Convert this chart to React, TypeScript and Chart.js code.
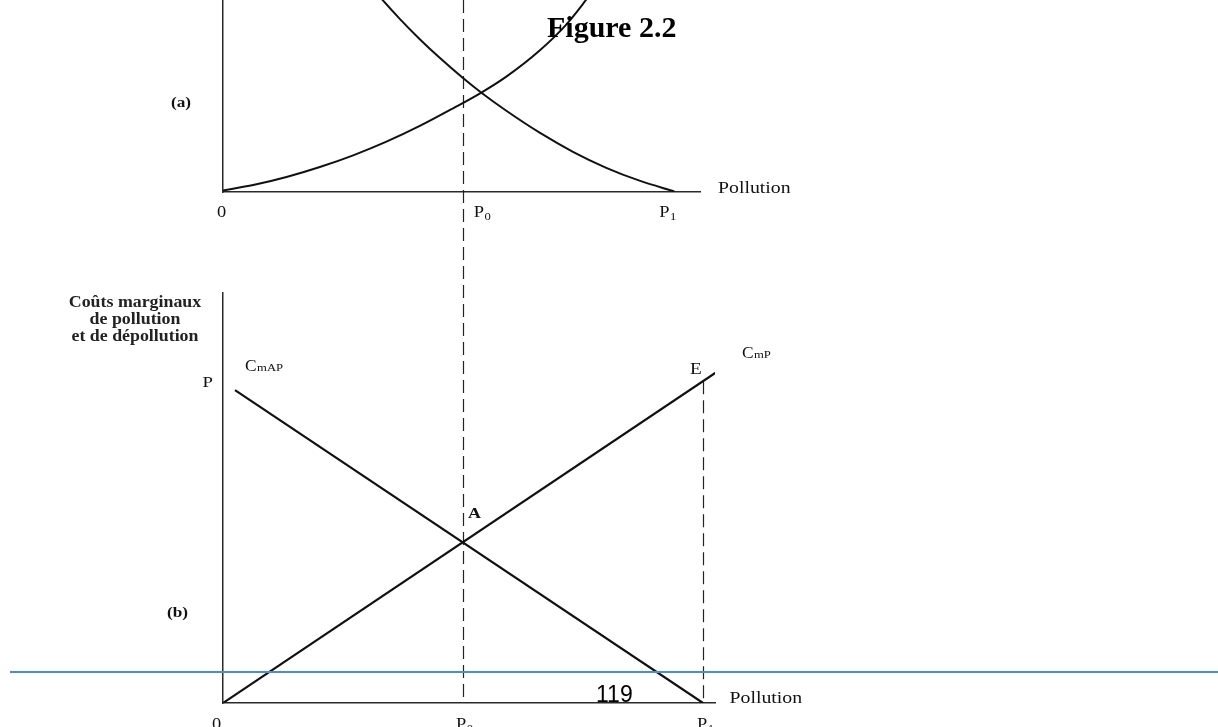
import React, { useEffect, useRef } from 'react';
import { Chart, registerables } from 'chart.js';

Chart.register(...registerables);

// ---------- DATA ----------
const P0 = 1;
const TOP_P1 = 1.883;
const BOTTOM_P1 = 2;
const TOP_X_MAX = 1.99;
const BOTTOM_X_MAX = 2.05;

// Panel (a): marginal damage (convex increasing) and abatement (convex decreasing)
const damageX = [0, 0.126, 0.265, 0.404, 0.543, 0.682, 0.821, 0.96, 1.078, 1.182, 1.321, 1.432, 1.508, 1.571];
const damageY = [0.8, 3.6, 7.8, 13.0, 19.1, 26.2, 34.4, 43.6, 51.8, 60.1, 73.7, 87.2, 99.0, 109.7];
const abateX = [0.592, 0.654, 0.7375, 0.821, 0.904, 1.0, 1.078, 1.182, 1.321, 1.46, 1.599, 1.7375, 1.883];
const abateY = [111.0, 101.7, 90.2, 79.6, 69.9, 59.5, 51.7, 42.3, 30.9, 20.95, 12.6, 5.9, 0.3];

// Panel (b): straight marginal cost lines
const cmapX = [0.05, 2.0];
const cmapY = [76.3, 0];
const cmpX = [0, 2.133];
const cmpY = [0, 83.7];
const E_VALUE = 78.5;
const A_VALUE = 39.2;

const tickMain = ['0', 'P', 'P'];
const tickSub = ['', '0', '1'];
const titleLines = ['Coûts marginaux', 'de pollution', 'et de dépollution'];

const SERIF = '"Liberation Serif", "Times New Roman", serif';
const TOP_CANVAS_H = 260;
const BOT_CANVAS_H = 467;

function pts(xs: number[], ys: number[]) {
  return xs.map((x, i) => ({ x, y: ys[i] }));
}

function txt(ctx: CanvasRenderingContext2D, s: string, x: number, y: number, font: string, align = 'left', sx = 1.2, color = '#111') {
  ctx.save();
  ctx.font = font;
  ctx.fillStyle = color;
  ctx.textBaseline = 'alphabetic';
  ctx.textAlign = 'left';
  const w = ctx.measureText(s).width * sx;
  let left = x;
  if (align === 'center') left = x - w / 2;
  else if (align === 'right') left = x - w;
  ctx.translate(left, y);
  ctx.scale(sx, 1);
  ctx.fillText(s, 0, 0);
  ctx.restore();
  return w;
}

function subLabel(ctx: CanvasRenderingContext2D, main: string, sub: string, x: number, y: number, mainSize: number, subSize: number, sx: number, drop: number) {
  const w = txt(ctx, main, x, y, `${mainSize}px ${SERIF}`, 'left', sx);
  if (sub) txt(ctx, sub, x + w + 0.5, y + drop, `${subSize}px ${SERIF}`, 'left', sx);
}

function dashed(ctx: CanvasRenderingContext2D, x: number, y1: number, y2: number, offset = 0) {
  ctx.save();
  ctx.strokeStyle = '#222';
  ctx.lineWidth = 1.2;
  ctx.setLineDash([13, 6]);
  ctx.lineDashOffset = offset;
  ctx.beginPath();
  ctx.moveTo(Math.round(x) + 0.5, y1);
  ctx.lineTo(Math.round(x) + 0.5, y2);
  ctx.stroke();
  ctx.restore();
}

function axisScales(xMax: number) {
  const common = {
    type: 'linear' as const,
    display: true,
    grid: { display: false, drawTicks: false },
    border: { display: true, color: '#2a2a2a', width: 1.5 },
    ticks: { display: false },
  };
  return {
    x: { ...common, min: 0, max: xMax, afterFit: (s: any) => { s.height = 0; } },
    y: { ...common, min: 0, max: 100, afterFit: (s: any) => { s.width = 0; } },
  };
}

export default function App() {
  const topRef = useRef<HTMLCanvasElement>(null);
  const botRef = useRef<HTMLCanvasElement>(null);

  useEffect(() => {
    const topPlugin = {
      id: 'topAnno',
      beforeDatasetsDraw(chart: any) {
        const { ctx, chartArea: a, scales } = chart;
        dashed(ctx, scales.x.getPixelForValue(P0), a.top, chart.height, 0);
      },
      afterDraw(chart: any) {
        const { ctx, chartArea: a, scales } = chart;
        const x = scales.x;
        ctx.save();
        ctx.font = `bold 30px ${SERIF}`;
        ctx.fillStyle = '#000';
        ctx.textBaseline = 'alphabetic';
        ctx.fillText('Figure 2.2', 547, 37);
        ctx.restore();
        txt(ctx, '(a)', a.left - 52, 107, `bold 15px ${SERIF}`, 'left', 1.15);
        txt(ctx, 'Pollution', a.right + 18, a.bottom + 1, `16.5px ${SERIF}`, 'left', 1.2);
        const tickVals = [0, P0, TOP_P1];
        const offs = [-6, 11, -15];
        tickVals.forEach((v, i) => {
          subLabel(ctx, tickMain[i], tickSub[i], x.getPixelForValue(v) + offs[i], a.bottom + 25, 16, 11, 1.15, 3);
        });
      },
    };

    const botPlugin = {
      id: 'botAnno',
      beforeDatasetsDraw(chart: any) {
        const { ctx, chartArea: a, scales } = chart;
        dashed(ctx, scales.x.getPixelForValue(P0), 0, a.bottom, TOP_CANVAS_H);
        dashed(ctx, scales.x.getPixelForValue(BOTTOM_P1), scales.y.getPixelForValue(E_VALUE), a.bottom, 0);
      },
      afterDraw(chart: any) {
        const { ctx, chartArea: a, scales } = chart;
        const x = scales.x, y = scales.y;
        titleLines.forEach((s, i) => {
          txt(ctx, s, a.left - 88, 47 + i * 17, `bold 17px ${SERIF}`, 'center', 1.05, '#222');
        });
        const pY = y.getPixelForValue(cmapY[0]);
        txt(ctx, 'P', a.left - 10, pY - 3, `15px ${SERIF}`, 'right', 1.25);
        const cw = txt(ctx, 'C', a.left + 22, pY - 19, `16.5px ${SERIF}`, 'left', 1.05);
        txt(ctx, 'mAP', a.left + 22 + cw + 0.5, pY - 19, `11px ${SERIF}`, 'left', 1.15);
        const eX = x.getPixelForValue(BOTTOM_P1), eY = y.getPixelForValue(E_VALUE);
        txt(ctx, 'E', eX - 13, eY - 7, `16px ${SERIF}`, 'left', 1.2);
        const endX = x.getPixelForValue(cmpX[1]), endY = y.getPixelForValue(cmpY[1]);
        const cw2 = txt(ctx, 'C', endX + 7, endY - 2, `16.5px ${SERIF}`, 'left', 1.05);
        txt(ctx, 'mP', endX + 7 + cw2 + 0.5, endY - 2, `11px ${SERIF}`, 'left', 1.15);
        const aX = x.getPixelForValue(P0), aY = y.getPixelForValue(A_VALUE);
        txt(ctx, 'A', aX + 5, aY - 24, `bold 15px ${SERIF}`, 'left', 1.2);
        txt(ctx, '(b)', 167, 357, `bold 15px ${SERIF}`, 'left', 1.15);
        txt(ctx, 'Pollution', a.right + 14.5, a.bottom, `16.5px ${SERIF}`, 'left', 1.2);
        const tickVals = [0, P0, BOTTOM_P1];
        const offs = [-11, -7, -6];
        tickVals.forEach((v, i) => {
          subLabel(ctx, tickMain[i], tickSub[i], x.getPixelForValue(v) + offs[i], a.bottom + 26, 16, 11, 1.15, 3);
        });
        // page footer decorations
        ctx.save();
        ctx.fillStyle = '#4a8fd0';
        ctx.fillRect(10, 411, 1208, 2);
        ctx.fillStyle = '#000';
        ctx.font = '23px "Liberation Sans", Arial, sans-serif';
        ctx.textBaseline = 'alphabetic';
        ctx.fillText('119', 596, 442);
        ctx.restore();
      },
    };

    const baseOpts = {
      responsive: false,
      animation: false as const,
      events: [] as any[],
      plugins: { legend: { display: false }, tooltip: { enabled: false } },
    };

    const top = new Chart(topRef.current!, {
      type: 'scatter',
      data: {
        datasets: [
          { data: pts(damageX, damageY), showLine: true, borderColor: '#111', borderWidth: 2, pointRadius: 0, cubicInterpolationMode: 'monotone' },
          { data: pts(abateX, abateY), showLine: true, borderColor: '#111', borderWidth: 2, pointRadius: 0, cubicInterpolationMode: 'monotone' },
        ],
      },
      options: {
        ...baseOpts,
        layout: { padding: { left: 223, right: 1218 - 700, top: 0, bottom: TOP_CANVAS_H - 192 } },
        scales: axisScales(TOP_X_MAX) as any,
      },
      plugins: [topPlugin],
    } as any);

    const bot = new Chart(botRef.current!, {
      type: 'scatter',
      data: {
        datasets: [
          { data: pts(cmapX, cmapY), showLine: true, borderColor: '#111', borderWidth: 2.2, pointRadius: 0 },
          { data: pts(cmpX, cmpY), showLine: true, borderColor: '#111', borderWidth: 2.2, pointRadius: 0 },
        ],
      },
      options: {
        ...baseOpts,
        layout: { padding: { left: 223, right: 1218 - 715, top: 33, bottom: BOT_CANVAS_H - 443 } },
        scales: axisScales(BOTTOM_X_MAX) as any,
      },
      plugins: [botPlugin],
    } as any);

    return () => {
      top.destroy();
      bot.destroy();
    };
  }, []);

  return (
    <div style={{ position: 'fixed', left: 0, top: 0, width: 1218, height: 727, background: '#fff', overflow: 'hidden' }}>
      <canvas ref={topRef} width={1218} height={TOP_CANVAS_H} style={{ position: 'absolute', left: 0, top: 0 }} />
      <canvas ref={botRef} width={1218} height={BOT_CANVAS_H} style={{ position: 'absolute', left: 0, top: TOP_CANVAS_H }} />
    </div>
  );
}
